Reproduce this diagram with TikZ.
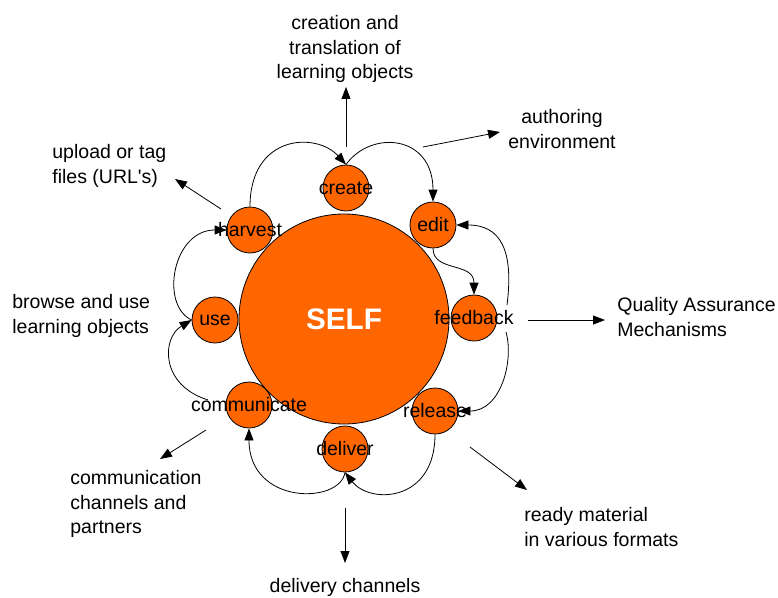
\documentclass[tikz,border=0pt]{standalone}
\usepackage{fontspec}
\setmainfont{Liberation Sans}
\usetikzlibrary{arrows.meta}
\definecolor{selforange}{RGB}{255,102,0}
\tikzset{
  stage/.style = {
    circle, draw, fill=selforange, minimum size=46pt, inner sep=0pt
  },
  note/.style = {
    inner sep=0pt, font=\fontsize{19.5}{24.5}\selectfont
  },
  flow/.style = {
    -{Triangle[length=12pt, width=9pt]}
  }
}

\begin{document}
\begin{tikzpicture}[x=1pt, y=-1pt, line width=.8pt]
    \useasboundingbox (0,0) rectangle (778,597);
    % le cercle central
    \node[stage, minimum size=210pt, text=white,
      font=\fontsize{29.7}{30}\selectfont\bfseries] (self) at (344,319) {SELF};
    % les étapes
    \node[stage, label={[note]center:create}] (create) at (346,188) {};
    \node[stage, label={[note]center:edit}] (edit) at (433,225) {};
    \node[stage, label={[note]center:feedback}] (feedback) at (474,318) {};
    \node[stage, label={[note]center:release}] (release) at (435,411) {};
    \node[stage, label={[note]center:deliver}] (deliver) at (345,449) {};
    \node[stage, label={[note]center:communicate}] (communicate) at (249,405) {};
    \node[stage, label={[note]center:use}] (use) at (215,320) {};
    \node[stage, label={[note]center:harvest}] (harvest) at (250,230) {};
    % les textes autour
    \node[note, align=center] (creation) at (345,49)
      {creation and\\translation of\\learning objects};
    \node[note, align=center] (authoring) at (562,129) {authoring\\environment};
    \node[note, align=left, anchor=west] (upload) at (52,166)
      {upload or tag\\files (URL\textquotesingle s)};
    \node[note, align=left, anchor=west] (browse) at (12,316) {browse and use\\learning objects};
    \node[note, align=left, anchor=west] (quality) at (617,317) {Quality Assurance\\Mechanisms};
    \node[note, align=left, anchor=west] (channels) at (70,504)
      {communication\\channels and\\partners};
    \node[note, align=left, anchor=west] (ready) at (524,527) {ready material\\in various formats};
    \node[note, align=center] (delivery) at (345,587) {delivery channels};
    % les points de départ et d'arrivée
    \path
      (423,147) coordinate (auth from)
      (500,132) coordinate (auth to)
      (221,209) coordinate (upl from)
      (175,179) coordinate (upl to)
      (528,320) coordinate (qual from)
      (605,320) coordinate (qual to)
      (206,430) coordinate (comm from)
      (160,459) coordinate (comm to)
      (470,447) coordinate (ready from)
      (527,490) coordinate (ready to)
      (345,508) coordinate (deli from)
      (345,563) coordinate (deli to)
      (507,305) coordinate (fb up)
      (506,332) coordinate (fb down)
      (208,400) coordinate (comm left)
    ;
    % le cycle
    \draw[flow] (harvest.north) .. controls +(0,-72) and +(-30,-33) .. (create.north);
    \draw[flow] (create.north) .. controls +(25,-35) and +(0,-67) .. (edit.north);
    \draw[flow] (edit.south) .. controls +(0,24) and +(0,-33) .. (feedback.north);
    \draw[flow] (fb up) .. controls +(7,-55) and +(44,0) .. (edit.east);
    \draw[flow] (fb down) .. controls +(8,28) and +(43,0) .. (release.east);
    \draw[flow] (release.south) .. controls +(0,68) and +(25,32) .. (deliver.south);
    \draw[flow] (deliver.south) .. controls +(-5,32) and +(0,77) .. (communicate.south);
    \draw[flow] (comm left) .. controls +(-48,-15) and +(-30,18) .. (use.west);
    \draw[flow] (use.west) .. controls +(-32,-15) and +(-54,0) .. (harvest.west);
    % les sorties
    \draw[flow, shorten <=18pt, shorten >=4pt] (create.north) -- (create.north |- creation.south);
    \draw[flow] (auth from) -- (auth to);
    \draw[flow] (upl from) -- (upl to);
    \draw[flow] (qual from) -- (qual to);
    \draw[flow] (comm from) -- (comm to);
    \draw[flow] (ready from) -- (ready to);
    \draw[flow] (deli from) -- (deli to);
\end{tikzpicture}
\end{document}
